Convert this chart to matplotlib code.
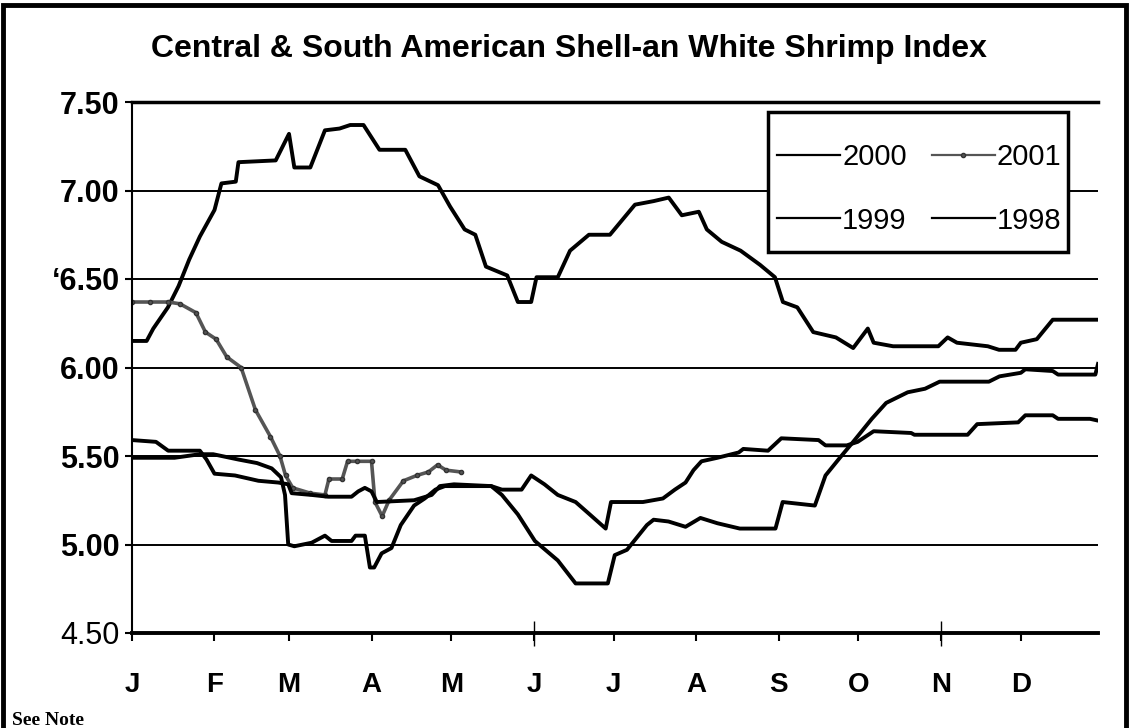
import matplotlib
matplotlib.use("Agg")
import matplotlib.pyplot as plt
from matplotlib.patches import Rectangle

# values: x = day of the year, y = US$ index
days_2000 = [0, 5.5, 8, 13.5, 17.5, 21.5, 25.5, 31, 33.6, 39, 40, 54, 59, 61, 67, 72.5, 78, 82, 87,
             93, 102.7, 108, 115, 119.5, 125, 129, 133, 141, 145, 150, 152, 160, 164.6, 171.7,
             179.6, 189, 196, 201.7, 206.6, 213, 216, 221.6, 228.7, 236, 241.6, 244.6, 250, 256,
             264.5, 271, 276.5, 278.7, 286, 303, 306.5, 310, 321.6, 325.8, 332, 334, 340, 346, 363]
price_2000 = [6.15, 6.15, 6.22, 6.34, 6.46, 6.61, 6.74, 6.89, 7.04, 7.05, 7.16, 7.17, 7.32, 7.13,
              7.13, 7.34, 7.35, 7.37, 7.37, 7.23, 7.23, 7.08, 7.03, 6.91, 6.78, 6.75, 6.57, 6.52,
              6.37, 6.37, 6.51, 6.51, 6.66, 6.75, 6.75, 6.92, 6.94, 6.96, 6.86, 6.88, 6.78, 6.71,
              6.66, 6.58, 6.51, 6.37, 6.34, 6.20, 6.17, 6.11, 6.22, 6.14, 6.12, 6.12, 6.17, 6.14,
              6.12, 6.10, 6.10, 6.14, 6.16, 6.27, 6.27]

days_2001 = [0, 6.8, 13.5, 18, 24, 27.6, 31.6, 35.6, 41, 46.4, 52, 55.6, 57.7, 60.4, 67, 72.5, 74,
             79, 81, 84.5, 90, 91.3, 94, 96.6, 102, 107, 111.4, 114.8, 118, 123.5]
price_2001 = [6.37, 6.37, 6.37, 6.36, 6.31, 6.20, 6.16, 6.06, 6.00, 5.76, 5.61, 5.50, 5.39, 5.32,
              5.29, 5.28, 5.37, 5.37, 5.47, 5.47, 5.47, 5.24, 5.16, 5.25, 5.36, 5.39, 5.41, 5.45,
              5.42, 5.41]

days_1999 = [0, 16, 25.5, 30.5, 40, 47, 52.5, 56, 57.5, 58.7, 61, 67.5, 72.5, 75, 82.5, 84, 87.5,
             89.4, 91, 93.8, 97.5, 101, 106, 110, 114, 117.6, 135, 139, 145, 151.4, 160, 166.7,
             178.8, 181.4, 186, 193.5, 196, 201.6, 208, 213.6, 220, 228.4, 241.8, 244.5, 256.6,
             260.6, 266, 271, 278, 283.4, 291.5, 298, 303.5, 322, 326, 334, 335.7, 346, 348, 362, 363]
price_1999 = [5.49, 5.49, 5.51, 5.51, 5.48, 5.46, 5.43, 5.38, 5.28, 5.00, 4.99, 5.01, 5.05, 5.02,
              5.02, 5.05, 5.05, 4.87, 4.87, 4.95, 4.98, 5.11, 5.22, 5.26, 5.31, 5.33, 5.33, 5.28,
              5.17, 5.02, 4.91, 4.78, 4.78, 4.94, 4.97, 5.11, 5.14, 5.13, 5.10, 5.15, 5.12, 5.09,
              5.09, 5.24, 5.22, 5.39, 5.49, 5.58, 5.71, 5.80, 5.86, 5.88, 5.92, 5.92, 5.95, 5.97,
              5.99, 5.98, 5.96, 5.96, 6.02]

days_1998 = [0, 9, 13.6, 25.5, 28, 31, 38.7, 47.5, 55, 58.7, 60, 67.5, 73.7, 82.5, 85, 87.5, 90, 92,
             106, 112.6, 115.7, 121, 135, 139, 146.4, 150, 155, 160, 166.7, 172, 178, 180, 192,
             199.5, 204, 208, 211, 214, 220, 228, 229.7, 239, 244, 258, 260.6, 268.6, 272.7, 278.7,
             292.8, 294, 314, 317.6, 333, 335.7, 346, 348, 360, 363]
price_1998 = [5.59, 5.58, 5.53, 5.53, 5.48, 5.40, 5.39, 5.36, 5.35, 5.34, 5.29, 5.28, 5.27, 5.27,
              5.30, 5.32, 5.30, 5.24, 5.25, 5.28, 5.33, 5.34, 5.33, 5.31, 5.31, 5.39, 5.34, 5.28,
              5.24, 5.17, 5.09, 5.24, 5.24, 5.26, 5.31, 5.35, 5.42, 5.47, 5.49, 5.52, 5.54, 5.53,
              5.60, 5.59, 5.56, 5.56, 5.58, 5.64, 5.63, 5.62, 5.62, 5.68, 5.69, 5.73, 5.73, 5.71,
              5.71, 5.70]

month_starts = [0, 31, 59, 90, 120, 151, 181, 212, 243, 273, 304, 334]
month_labels = ["J", "F", "M", "A", "M", "J", "J", "A", "S", "O", "N", "D"]
y_ticks = [4.5, 5.0, 5.5, 6.0, 6.5, 7.0, 7.5]
y_tick_labels = ["4.50", "5.00", "5.50", "6.00", "\u20186.50", "7.00", "7.50"]

FONT = ["Liberation Sans Narrow", "Liberation Sans", "DejaVu Sans"]
W, H = 1135, 728

fig = plt.figure(figsize=(W / 100, H / 100), dpi=100)
ax = fig.add_axes([132 / W, 1 - 633 / H, 966 / W, 531 / H])

l2000, = ax.plot(days_2000, price_2000, color="black", lw=2.8)
l2001, = ax.plot(days_2001, price_2001, color="#555555", lw=2.6, marker="o", ms=3,
                 markeredgecolor="#333333")
l1999, = ax.plot(days_1999, price_1999, color="black", lw=2.8)
l1998, = ax.plot(days_1998, price_1998, color="black", lw=2.8)

ax.set_xlim(0, 363)
ax.set_ylim(4.5, 7.5)

ax.set_yticks(y_ticks)
ax.set_yticklabels(y_tick_labels, family=FONT, fontsize=22, fontweight="bold")
ax.get_yticklabels()[0].set_fontweight("normal")
ax.tick_params(axis="y", length=5, width=1.5, pad=4, direction="out")
ax.grid(axis="y", color="black", lw=1.4)
ax.set_axisbelow(True)

ax.set_xticks(month_starts)
ax.set_xticklabels(month_labels, family=FONT, fontsize=20, fontweight="bold")
ax.tick_params(axis="x", which="major", length=6, width=1.5, pad=22, direction="out")
# the two taller marks on the scan (June, November)
ax.set_xticks([151, 304], minor=True)
ax.xaxis.remove_overlapping_locs = False
ax.tick_params(axis="x", which="minor", length=18, width=1, direction="inout")

ax.spines["right"].set_visible(False)
ax.spines["left"].set_linewidth(1.5)
ax.spines["bottom"].set_linewidth(2.8)
ax.spines["top"].set_linewidth(2.5)

# legend box drawn by hand so the padding matches the scan
box = Rectangle((768 / W, 1 - 252 / H), 300 / W, 140 / H, transform=fig.transFigure,
                facecolor="white", edgecolor="black", lw=2.5, zorder=4)
ax.add_artist(box)
leg = ax.legend([l2000, l1999, l2001, l1998], ["2000", "1999", "2001", "1998"], ncol=2,
                loc="upper left", bbox_to_anchor=(777 / W, 1 - 143 / H),
                bbox_transform=fig.transFigure, borderaxespad=0, borderpad=0,
                prop={"family": FONT, "size": 21}, handlelength=2.16, handletextpad=0.07,
                columnspacing=0.86, labelspacing=1.22, frameon=False)
leg.set_zorder(5)
for line in leg.get_lines():
    line.set_linewidth(1.6)

fig.text(569 / W, 1 - 57 / H, "Central & South American Shell-an White Shrimp Index",
         ha="center", va="baseline", fontsize=23, fontweight="bold",
         family=["Liberation Sans", "DejaVu Sans"])
fig.text(12 / W, 3 / H, "See Note", ha="left", va="baseline", fontsize=14,
         fontweight="bold", family=["Liberation Serif", "DejaVu Serif"])

fig.patches.append(Rectangle((3 / W, -0.02), 1123 / W, 1.02 - 5 / H,
                             transform=fig.transFigure, fill=False, lw=3.5, ec="black"))

fig.savefig("out.png", dpi=100)
